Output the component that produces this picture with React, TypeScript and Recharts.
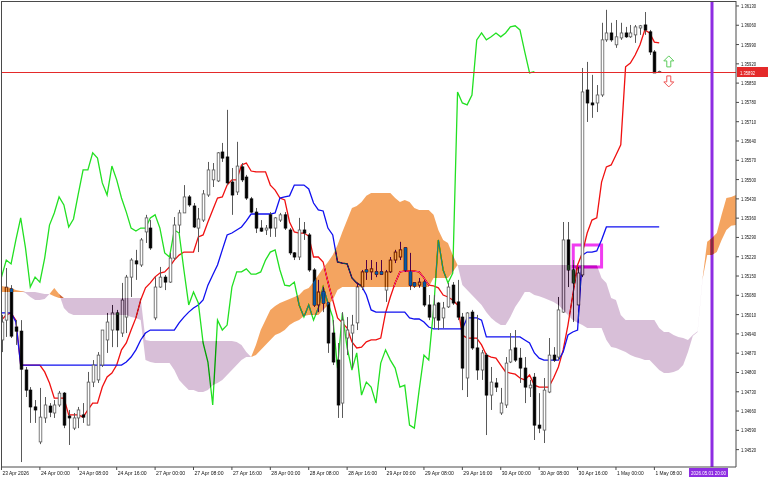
import {
  ComposedChart, Bar, Line, Area, XAxis, YAxis, CartesianGrid,
  ReferenceLine, ReferenceArea, ReferenceDot,
} from 'recharts';

// GBPUSD-style H1 chart, 23 Apr 16:00 .. 1 May 09:00, Ichimoku (9/26/52)
const opens = [
  1.34918, 1.34990, 1.35103, 1.34965, 1.34950, 1.34809, 1.34736, 1.34675, 1.34548, 1.34635,
  1.34678, 1.34653, 1.34682, 1.34725, 1.34642, 1.34598, 1.34635, 1.34646, 1.34609, 1.34765,
  1.34773, 1.34827, 1.34918, 1.34954, 1.35016, 1.34943, 1.35001, 1.35146, 1.35205, 1.35190,
  1.35310, 1.35324, 1.34998, 1.35110, 1.35146, 1.35128, 1.35215, 1.35335, 1.35379, 1.35437,
  1.35404, 1.35324, 1.35353, 1.35444, 1.35499, 1.35495, 1.35600, 1.35582, 1.35491, 1.35455,
  1.35546, 1.35509, 1.35430, 1.35382, 1.35324, 1.35317, 1.35372, 1.35324, 1.35353, 1.35372,
  1.35317, 1.35234, 1.35219, 1.35317, 1.35299, 1.35172, 1.35045, 1.35092, 1.35052, 1.34943,
  1.34845, 1.34689, 1.34925, 1.34943, 1.34980, 1.35110, 1.35172, 1.35165, 1.35165, 1.35165,
  1.35099, 1.35165, 1.35208, 1.35219, 1.35252, 1.35165, 1.35125, 1.35117, 1.35128, 1.35045,
  1.34998, 1.35052, 1.34998, 1.35038, 1.35117, 1.35056, 1.35001, 1.34780, 1.35019, 1.34889,
  1.34809, 1.34863, 1.34718, 1.34762, 1.34653, 1.34682, 1.34838, 1.34889, 1.34852, 1.34816,
  1.34744, 1.34783, 1.34609, 1.34591, 1.34729, 1.34863, 1.34856, 1.35019, 1.35281, 1.35172,
  1.35045, 1.35154, 1.35825, 1.35778, 1.35778, 1.35807, 1.36007, 1.36032, 1.35989, 1.36014,
  1.36032, 1.36018, 1.36025, 1.36050, 1.36061, 1.36036, 1.35963, 1.35892,
];
const highs = [
  1.35009, 1.35179, 1.35117, 1.34990, 1.34990, 1.34820, 1.34747, 1.34700, 1.34744, 1.34711,
  1.34689, 1.34700, 1.34733, 1.34729, 1.34664, 1.34653, 1.34675, 1.34689, 1.34802, 1.34845,
  1.34874, 1.34954, 1.35016, 1.35045, 1.35027, 1.35125, 1.35154, 1.35215, 1.35245, 1.35288,
  1.35372, 1.35353, 1.35146, 1.35183, 1.35154, 1.35234, 1.35364, 1.35390, 1.35480, 1.35444,
  1.35415, 1.35397, 1.35462, 1.35564, 1.35560, 1.35600, 1.35633, 1.35753, 1.35542, 1.35637,
  1.35560, 1.35517, 1.35437, 1.35397, 1.35353, 1.35335, 1.35382, 1.35364, 1.35379, 1.35382,
  1.35324, 1.35237, 1.35361, 1.35346, 1.35306, 1.35179, 1.35136, 1.35110, 1.35056, 1.34990,
  1.34907, 1.35019, 1.35001, 1.35009, 1.35125, 1.35172, 1.35208, 1.35208, 1.35201, 1.35208,
  1.35172, 1.35219, 1.35245, 1.35274, 1.35255, 1.35234, 1.35128, 1.35143, 1.35136, 1.35081,
  1.35081, 1.35056, 1.35056, 1.35125, 1.35128, 1.35136, 1.35016, 1.35019, 1.35027, 1.35009,
  1.34882, 1.34871, 1.34820, 1.34780, 1.34744, 1.34856, 1.34943, 1.34954, 1.34889, 1.34856,
  1.34773, 1.34798, 1.34725, 1.34780, 1.34925, 1.34892, 1.35074, 1.35346, 1.35346, 1.35208,
  1.35183, 1.35905, 1.35927, 1.35880, 1.35843, 1.36069, 1.36116, 1.36069, 1.36079, 1.36069,
  1.36054, 1.36061, 1.36061, 1.36061, 1.36108, 1.36043, 1.35970, 1.35895,
];
const lows = [
  1.34874, 1.34929, 1.34925, 1.34900, 1.34475, 1.34711, 1.34617, 1.34617, 1.34540, 1.34617,
  1.34638, 1.34635, 1.34675, 1.34598, 1.34537, 1.34591, 1.34598, 1.34617, 1.34609, 1.34747,
  1.34762, 1.34820, 1.34871, 1.34892, 1.34892, 1.34929, 1.34943, 1.35074, 1.35136, 1.35183,
  1.35270, 1.35245, 1.34990, 1.35107, 1.35099, 1.35125, 1.35208, 1.35306, 1.35379, 1.35401,
  1.35324, 1.35237, 1.35346, 1.35437, 1.35473, 1.35491, 1.35564, 1.35480, 1.35372, 1.35444,
  1.35491, 1.35426, 1.35379, 1.35306, 1.35310, 1.35299, 1.35292, 1.35292, 1.35346, 1.35317,
  1.35226, 1.35208, 1.35208, 1.35281, 1.35165, 1.35038, 1.35019, 1.35019, 1.34871, 1.34827,
  1.34635, 1.34635, 1.34863, 1.34816, 1.34954, 1.35099, 1.35136, 1.35136, 1.35146, 1.35154,
  1.35056, 1.35161, 1.35197, 1.35208, 1.35165, 1.35099, 1.35107, 1.35107, 1.35038, 1.34990,
  1.34961, 1.34954, 1.34961, 1.35034, 1.35045, 1.34990, 1.34736, 1.34711, 1.34882, 1.34773,
  1.34773, 1.34573, 1.34664, 1.34729, 1.34646, 1.34671, 1.34834, 1.34838, 1.34762, 1.34689,
  1.34711, 1.34555, 1.34580, 1.34544, 1.34725, 1.34838, 1.34845, 1.35016, 1.35110, 1.34983,
  1.35045, 1.35146, 1.35709, 1.35724, 1.35745, 1.35800, 1.36000, 1.36000, 1.35978, 1.36007,
  1.36014, 1.36014, 1.35996, 1.36025, 1.36025, 1.35952, 1.35887, 1.35889,
];
const closes = [
  1.34983, 1.35110, 1.34932, 1.34950, 1.34812, 1.34736, 1.34675, 1.34664, 1.34638, 1.34682,
  1.34656, 1.34682, 1.34725, 1.34609, 1.34635, 1.34635, 1.34664, 1.34638, 1.34765, 1.34827,
  1.34863, 1.34954, 1.34983, 1.35016, 1.34954, 1.35063, 1.35146, 1.35208, 1.35194, 1.35281,
  1.35361, 1.35252, 1.35110, 1.35146, 1.35128, 1.35215, 1.35335, 1.35379, 1.35437, 1.35408,
  1.35328, 1.35357, 1.35448, 1.35535, 1.35535, 1.35597, 1.35578, 1.35488, 1.35444, 1.35549,
  1.35499, 1.35433, 1.35382, 1.35324, 1.35313, 1.35324, 1.35324, 1.35361, 1.35372, 1.35324,
  1.35234, 1.35219, 1.35317, 1.35306, 1.35172, 1.35045, 1.35092, 1.35052, 1.34907, 1.34838,
  1.34682, 1.34990, 1.34954, 1.34972, 1.35110, 1.35165, 1.35165, 1.35176, 1.35157, 1.35157,
  1.35165, 1.35208, 1.35237, 1.35245, 1.35172, 1.35117, 1.35114, 1.35128, 1.35045, 1.35001,
  1.35045, 1.34990, 1.35034, 1.35110, 1.35052, 1.35001, 1.34816, 1.35016, 1.34889, 1.34809,
  1.34871, 1.34718, 1.34765, 1.34747, 1.34689, 1.34834, 1.34882, 1.34845, 1.34816, 1.34747,
  1.34754, 1.34609, 1.34598, 1.34736, 1.34863, 1.34845, 1.35027, 1.35281, 1.35172, 1.35125,
  1.35161, 1.35818, 1.35778, 1.35771, 1.35807, 1.36007, 1.36032, 1.36007, 1.36018, 1.36032,
  1.36018, 1.36032, 1.36054, 1.36058, 1.36043, 1.35963, 1.35887, 1.35892,
];

const tenkan = [
  1.34990, 1.35009, 1.35016, 1.34990, 1.34827, 1.34827, 1.34827, 1.34827, 1.34827, 1.34802,
  1.34762, 1.34707, 1.34707, 1.34707, 1.34646, 1.34646, 1.34646, 1.34638, 1.34664, 1.34689,
  1.34689, 1.34747, 1.34784, 1.34798, 1.34827, 1.34882, 1.34907, 1.34954, 1.34998, 1.35063,
  1.35107, 1.35125, 1.35147, 1.35161, 1.35165, 1.35183, 1.35208, 1.35226, 1.35237, 1.35237,
  1.35237, 1.35292, 1.35299, 1.35346, 1.35390, 1.35433, 1.35437, 1.35480, 1.35499, 1.35499,
  1.35553, 1.35560, 1.35531, 1.35528, 1.35528, 1.35528, 1.35480, 1.35462, 1.35433, 1.35426,
  1.35346, 1.35310, 1.35306, 1.35306, 1.35295, 1.35219, 1.35219, 1.35201, 1.35128, 1.35063,
  1.34998, 1.34980, 1.34961, 1.34911, 1.34889, 1.34892, 1.34911, 1.34918, 1.34918, 1.34925,
  1.35016, 1.35074, 1.35125, 1.35165, 1.35168, 1.35168, 1.35168, 1.35165, 1.35143, 1.35117,
  1.35114, 1.35107, 1.35081, 1.35074, 1.35063, 1.35045, 1.34936, 1.34925, 1.34925, 1.34925,
  1.34900, 1.34863, 1.34856, 1.34852, 1.34827, 1.34802, 1.34798, 1.34794, 1.34780, 1.34773,
  1.34791, 1.34754, 1.34747, 1.34747, 1.34747, 1.34780, 1.34820, 1.34882, 1.34972, 1.35081,
  1.35190, 1.35234, 1.35306, 1.35353, 1.35361, 1.35491, 1.35546, 1.35553, 1.35589, 1.35626,
  1.35909, 1.35923, 1.35952, 1.35989, 1.36043, 1.36032, 1.35999, 1.35996,
];
const kijun = [
  1.35016, 1.35016, 1.35016, 1.34983, 1.34827, 1.34827, 1.34827, 1.34827, 1.34827, 1.34827,
  1.34827, 1.34827, 1.34827, 1.34827, 1.34827, 1.34827, 1.34827, 1.34827, 1.34827, 1.34827,
  1.34827, 1.34827, 1.34827, 1.34827, 1.34827, 1.34827, 1.34838, 1.34856, 1.34882, 1.34918,
  1.34943, 1.34954, 1.34954, 1.34954, 1.34954, 1.34954, 1.34954, 1.34980, 1.35001, 1.35019,
  1.35034, 1.35045, 1.35063, 1.35117, 1.35154, 1.35190, 1.35245, 1.35299, 1.35306, 1.35317,
  1.35328, 1.35350, 1.35375, 1.35375, 1.35375, 1.35375, 1.35375, 1.35379, 1.35433, 1.35437,
  1.35441, 1.35480, 1.35480, 1.35480, 1.35466, 1.35415, 1.35390, 1.35386, 1.35324, 1.35299,
  1.35201, 1.35197, 1.35194, 1.35143, 1.35125, 1.35114, 1.35081, 1.35027, 1.35019, 1.35019,
  1.35019, 1.35019, 1.35019, 1.35019, 1.35019, 1.34998, 1.34994, 1.34994, 1.34983, 1.34965,
  1.34958, 1.34958, 1.34958, 1.34958, 1.34958, 1.34958, 1.34958, 1.34998, 1.34998, 1.34998,
  1.34990, 1.34929, 1.34929, 1.34929, 1.34929, 1.34929, 1.34929, 1.34929, 1.34929, 1.34918,
  1.34907, 1.34871, 1.34852, 1.34845, 1.34845, 1.34845, 1.34845, 1.34874, 1.34936, 1.34947,
  1.34954, 1.35226, 1.35237, 1.35237, 1.35241, 1.35281, 1.35328, 1.35328, 1.35328, 1.35328,
  1.35328, 1.35328, 1.35328, 1.35328, 1.35328, 1.35328, 1.35328, 1.35328,
];
// cloud edges, already shifted 26 bars forward (runs 16 bars past the last candle here)
const spanA = [
  1.35114, 1.35110, 1.35107, 1.35099, 1.35096, 1.35088, 1.35074, 1.35063, 1.35063, 1.35067,
  1.35085, 1.35107, 1.35085, 1.35034, 1.35016, 1.35009, 1.35009, 1.35009, 1.35009, 1.35009,
  1.35009, 1.35009, 1.35009, 1.35009, 1.35009, 1.35009, 1.35009, 1.35001, 1.34998, 1.34990,
  1.34845, 1.34838, 1.34834, 1.34834, 1.34834, 1.34834, 1.34809, 1.34773, 1.34754, 1.34736,
  1.34736, 1.34729, 1.34729, 1.34736, 1.34754, 1.34762, 1.34773, 1.34791, 1.34809, 1.34827,
  1.34845, 1.34856, 1.34856, 1.34900, 1.34954, 1.34990, 1.35027, 1.35041, 1.35052, 1.35059,
  1.35067, 1.35074, 1.35081, 1.35099, 1.35107, 1.35128, 1.35154, 1.35179, 1.35201, 1.35226,
  1.35263, 1.35310, 1.35353, 1.35397, 1.35404, 1.35419, 1.35441, 1.35451, 1.35451, 1.35451,
  1.35451, 1.35451, 1.35433, 1.35419, 1.35426, 1.35419, 1.35397, 1.35390, 1.35390, 1.35390,
  1.35372, 1.35317, 1.35281, 1.35270, 1.35226, 1.35190, 1.35117, 1.35099, 1.35081, 1.35063,
  1.35045, 1.35019, 1.34998, 1.34983, 1.34972, 1.34972, 1.35001, 1.35038, 1.35063, 1.35092,
  1.35092, 1.35081, 1.35077, 1.35070, 1.35063, 1.35056, 1.35045, 1.35027, 1.35009, 1.34990,
  1.34980, 1.34972, 1.34961, 1.34961, 1.34961, 1.34961, 1.34918, 1.34892, 1.34889, 1.34882,
  1.34874, 1.34863, 1.34856, 1.34852, 1.34845, 1.34845, 1.34827, 1.34809, 1.34798, 1.34798,
  1.34802, 1.34809, 1.34827, 1.34874, 1.34932, 1.34947, 1.35132, 1.35274, 1.35288, 1.35306,
  1.35372, 1.35433, 1.35437, 1.35444,
];
const spanB = [
  1.35092, 1.35092, 1.35092, 1.35092, 1.35092, 1.35092, 1.35092, 1.35092, 1.35088, 1.35085,
  1.35085, 1.35077, 1.35070, 1.35070, 1.35070, 1.35070, 1.35070, 1.35070, 1.35070, 1.35070,
  1.35070, 1.35070, 1.35070, 1.35070, 1.35070, 1.35070, 1.35070, 1.35070, 1.35070, 1.35070,
  1.34918, 1.34914, 1.34914, 1.34914, 1.34914, 1.34914, 1.34914, 1.34914, 1.34914, 1.34914,
  1.34914, 1.34914, 1.34914, 1.34914, 1.34914, 1.34914, 1.34914, 1.34914, 1.34914, 1.34911,
  1.34900, 1.34874, 1.34856, 1.34863, 1.34882, 1.34900, 1.34918, 1.34936, 1.34943, 1.34954,
  1.34972, 1.34983, 1.34990, 1.35005, 1.35009, 1.35009, 1.35009, 1.35027, 1.35045, 1.35063,
  1.35099, 1.35110, 1.35110, 1.35110, 1.35110, 1.35110, 1.35110, 1.35110, 1.35110, 1.35110,
  1.35110, 1.35110, 1.35110, 1.35110, 1.35110, 1.35110, 1.35110, 1.35110, 1.35110, 1.35110,
  1.35143, 1.35143, 1.35143, 1.35143, 1.35165, 1.35190, 1.35190, 1.35190, 1.35190, 1.35190,
  1.35190, 1.35190, 1.35190, 1.35190, 1.35190, 1.35190, 1.35190, 1.35190, 1.35190, 1.35190,
  1.35190, 1.35190, 1.35190, 1.35190, 1.35190, 1.35190, 1.35190, 1.35190, 1.35190, 1.35190,
  1.35190, 1.35190, 1.35190, 1.35190, 1.35190, 1.35143, 1.35125, 1.35070, 1.35063, 1.35009,
  1.34990, 1.34990, 1.34990, 1.34990, 1.34990, 1.34990, 1.34990, 1.34961, 1.34947, 1.34947,
  1.34936, 1.34929, 1.34925, 1.34918, 1.34936, 1.34950, 1.35136, 1.35226, 1.35226, 1.35237,
  1.35281, 1.35317, 1.35332, 1.35335,
];

const CHIKOU_LAG = 26;

// one tick every 8 bars
const timeTicks = [0, 8, 16, 24, 32, 40, 48, 56, 64, 72, 80, 88, 96, 104, 112, 120, 128, 136];
const timeLabels = [
  '23 Apr 2026', '24 Apr 00:00', '24 Apr 08:00', '24 Apr 16:00', '27 Apr 00:00', '27 Apr 08:00',
  '27 Apr 16:00', '28 Apr 00:00', '28 Apr 08:00', '28 Apr 16:00', '29 Apr 00:00', '29 Apr 08:00',
  '29 Apr 16:00', '30 Apr 00:00', '30 Apr 08:00', '30 Apr 16:00', '1 May 00:00', '1 May 08:00',
];
const priceTicks = [
  1.34520, 1.34590, 1.34660, 1.34730, 1.34800, 1.34870, 1.34940, 1.35010, 1.35080, 1.35150,
  1.35220, 1.35290, 1.35360, 1.35430, 1.35500, 1.35570, 1.35640, 1.35710, 1.35780, 1.35850,
  1.35920, 1.35990, 1.36060, 1.36130,
];

const LAST_PRICE = 1.35892;
const MARK_BAR = 148;
const MARK_LABEL = '2026.05.01 20:00';
const BOX = { x1: 119.1, x2: 125.0, y1: 1.35183, y2: 1.35263 };
const ARROW_BAR = 139;
const ARROW_UP = 1.35927;
const ARROW_DOWN = 1.35858;

const X_DOMAIN: [number, number] = [-0.1, 153];
const Y_DOMAIN: [number, number] = [1.34457, 1.36148];

const FONT = '"Liberation Sans", Arial, sans-serif';
const FRAME = '#4a4a4a';
const PRICE_RED = '#e42a2a';

const data = spanA.map((a, i) => {
  const b = spanB[i];
  return {
    i,
    open: opens[i],
    high: highs[i],
    low: lows[i],
    close: closes[i],
    tenkan: tenkan[i],
    kijun: kijun[i],
    chikou: closes[i + CHIKOU_LAG],
    // drawn in difference mode (MT paints the cloud with XOR)
    up: a >= b ? [b, a] : [b, b],
    down: b > a ? [a, b] : [a, a],
  };
});

// MT's axis font is narrow; squeeze Liberation Sans to the same width
function Tiny({ x, y, w, children, fill = '#111', anchor = 'start' }: any) {
  return (
    <text
      x={x}
      y={y}
      fontSize={5.6}
      fontFamily={FONT}
      fill={fill}
      textAnchor={anchor}
      textLength={w}
      lengthAdjust="spacingAndGlyphs"
    >
      {children}
    </text>
  );
}

function Candle(props: any) {
  const { x, y, width, height, payload } = props;
  if (payload == null || payload.open == null) return null;
  const top = Math.min(y, y + height);
  const h = Math.abs(height);
  const range = payload.high - payload.low;
  const toY = (p: number) => (range > 0 ? top + ((payload.high - p) / range) * h : top);
  const cx = Math.round(x + width / 2) + 0.5;
  const oy = toY(payload.open);
  const cy = toY(payload.close);
  const up = payload.close >= payload.open;
  const bodyTop = Math.min(oy, cy);
  const bodyH = Math.max(Math.abs(cy - oy), 1);
  return (
    <g>
      <line x1={cx} x2={cx} y1={top} y2={top + h} stroke="#5a5a5a" strokeWidth={1} />
      <rect
        x={cx - 1.3}
        y={bodyTop}
        width={2.6}
        height={bodyH}
        fill={up ? '#fff' : '#000'}
        stroke={up ? '#5a5a5a' : '#000'}
        strokeWidth={0.8}
      />
    </g>
  );
}

function TimeTick({ x, y, payload }: any) {
  const label = timeLabels[timeTicks.indexOf(payload.value)] ?? '';
  return <Tiny x={x + 1} y={y + 3} w={label.length * 2.42}>{label}</Tiny>;
}

function PriceTick({ x, y, payload }: any) {
  return <Tiny x={x} y={y + 2} w={15}>{payload.value.toFixed(5)}</Tiny>;
}

// the bid line itself is drawn here, with its tag on the price scale
function PriceTag({ viewBox }: any) {
  if (!viewBox) return null;
  const right = viewBox.x + viewBox.width;
  const ly = Math.round(viewBox.y) + 0.5;
  return (
    <g>
      <line x1={viewBox.x} x2={right} y1={ly} y2={ly} stroke={PRICE_RED} strokeWidth={1} />
      <rect x={right + 1} y={ly - 5.5} width={31} height={10} fill={PRICE_RED} />
      <Tiny x={right + 4} y={ly + 2} w={15} fill="#fff">{LAST_PRICE.toFixed(5)}</Tiny>
    </g>
  );
}

function TimeTag({ viewBox }: any) {
  if (!viewBox) return null;
  const bottom = viewBox.y + viewBox.height;
  return (
    <g>
      <rect x={viewBox.x - 23} y={bottom + 1} width={39} height={9} fill="#8e2de2" />
      <Tiny x={viewBox.x - 21} y={bottom + 7.5} w={35} fill="#fff">{MARK_LABEL}</Tiny>
    </g>
  );
}

function UpArrow({ cx, cy }: any) {
  const pts = [[0, -6], [5, -1], [2, -1], [2, 5], [-2, 5], [-2, -1], [-5, -1]]
    .map(([dx, dy]) => `${cx + dx},${cy + dy}`).join(' ');
  return <polygon points={pts} fill="#fff" stroke="#5ccc5c" strokeWidth={1} />;
}

function DownArrow({ cx, cy }: any) {
  const pts = [[0, 6], [5, 1], [2, 1], [2, -5], [-2, -5], [-2, 1], [-5, 1]]
    .map(([dx, dy]) => `${cx + dx},${cy + dy}`).join(' ');
  return <polygon points={pts} fill="#fff" stroke="#ee5555" strokeWidth={1} />;
}

export default function App() {
  return (
    <div style={{ position: 'absolute', left: 0, top: 0, width: 768, height: 480, background: '#fff' }}>
      <style>{'.cloud-xor{mix-blend-mode:difference}'}</style>
      <ComposedChart
        width={768}
        height={480}
        data={data}
        margin={{ top: 1, right: 0, bottom: 0, left: 1 }}
        style={{ fontFamily: FONT }}
      >
        <CartesianGrid horizontal={false} vertical={false} fill="#fff" />
        <XAxis
          dataKey="i"
          type="number"
          domain={X_DOMAIN}
          ticks={timeTicks}
          interval={0}
          allowDataOverflow
          height={13}
          tickSize={3}
          tick={<TimeTick />}
          tickLine={{ stroke: FRAME }}
          axisLine={{ stroke: FRAME }}
        />
        <YAxis
          orientation="right"
          type="number"
          domain={Y_DOMAIN}
          ticks={priceTicks}
          interval={0}
          allowDataOverflow
          width={32}
          tickSize={3}
          tick={<PriceTick />}
          tickLine={{ stroke: FRAME }}
          axisLine={{ stroke: FRAME }}
        />

        <Line dataKey="tenkan" type="linear" stroke="#f01010" strokeWidth={1.3} dot={false} activeDot={false} isAnimationActive={false} zIndex={250} />
        <Line dataKey="kijun" type="linear" stroke="#1010f0" strokeWidth={1.3} dot={false} activeDot={false} isAnimationActive={false} zIndex={250} />
        <Line dataKey="chikou" type="linear" stroke="#22e022" strokeWidth={1.3} dot={false} activeDot={false} isAnimationActive={false} zIndex={250} />

        <Bar
          dataKey={(d: any) => (d.open == null ? undefined : [d.low, d.high])}
          barSize={3}
          shape={<Candle />}
          isAnimationActive={false}
          zIndex={300}
        />

        <Area dataKey="up" type="linear" stroke="none" fill="#0b5b9f" fillOpacity={1} className="cloud-xor" dot={false} activeDot={false} isAnimationActive={false} zIndex={450} />
        <Area dataKey="down" type="linear" stroke="none" fill="#274027" fillOpacity={1} className="cloud-xor" dot={false} activeDot={false} isAnimationActive={false} zIndex={450} />

        <ReferenceLine y={LAST_PRICE} stroke="none" strokeOpacity={0} label={<PriceTag />} />
        <ReferenceLine x={MARK_BAR} stroke="#8e2de2" strokeWidth={3} label={<TimeTag />} />
        <ReferenceArea x1={BOX.x1} x2={BOX.x2} y1={BOX.y1} y2={BOX.y2} fill="none" stroke="#f03cf0" strokeWidth={3} />
        <ReferenceDot x={ARROW_BAR} y={ARROW_UP} shape={(p: any) => <UpArrow {...p} />} />
        <ReferenceDot x={ARROW_BAR} y={ARROW_DOWN} shape={(p: any) => <DownArrow {...p} />} />
      </ComposedChart>
      {/* chart frame: top and left edges of the plot */}
      <div style={{ position: 'absolute', left: 1, top: 1, width: 735, height: 466, borderTop: `1px solid ${FRAME}`, borderLeft: `1px solid ${FRAME}`, boxSizing: 'border-box', pointerEvents: 'none' }} />
    </div>
  );
}
